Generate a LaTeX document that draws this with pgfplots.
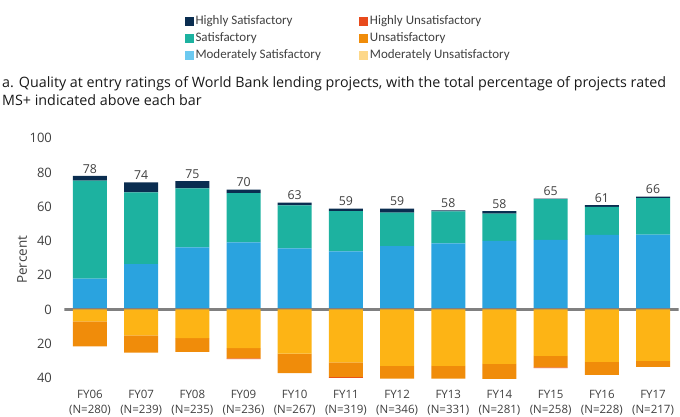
\documentclass[border=0pt]{standalone}
\usepackage{pgfplots}
\pgfplotsset{compat=1.18}
\usepackage{pgfplotstable}
\usepackage{fontspec}
\setmainfont{Open Sans}
\newfontfamily\legfont{Carlito}

\definecolor{hs}{RGB}{10,45,80}
\definecolor{sat}{RGB}{29,178,160}
\definecolor{ms}{RGB}{42,163,223}
\definecolor{hu}{RGB}{232,74,28}
\definecolor{uns}{RGB}{240,140,10}
\definecolor{mu}{RGB}{253,180,21}
\definecolor{mslight}{RGB}{108,201,240}
\definecolor{mulight}{RGB}{253,216,138}
\definecolor{txt}{RGB}{64,64,64}
\definecolor{zeroline}{RGB}{128,128,128}

% ratings by fiscal year (percent); unsatisfactory shares stored as negatives
% tot = height of the positive stack, lbl = rounded MS+ share printed above it
\pgfplotstableread{
x  MS    S     HS   MU     U      HU    tot   lbl
0  18.0  57.3  2.7  -7.0   -14.6  0     78.0  78
1  26.5  41.9  5.9  -15.2  -10.0  0     74.3  74
2  36.3  34.5  4.1  -16.8  -8.0   0     74.9  75
3  39.2  28.8  2.0  -22.6  -6.0   -0.5  70.0  70
4  35.7  25.1  1.6  -25.9  -11.3  0     62.4  63
5  33.9  23.6  1.4  -31.0  -8.5   -0.5  58.9  59
6  37.0  19.5  2.4  -33.0  -7.4   0     58.9  59
7  38.6  18.7  0.6  -33.0  -7.4   0     57.9  58
8  40.0  16.0  1.5  -31.8  -8.8   0     57.5  58
9  40.6  23.8  0.4  -27.1  -6.7   -0.5  64.8  65
10 43.5  16.4  1.1  -30.6  -7.6   0     61.0  61
11 43.7  21.4  0.8  -30.0  -3.5   0     65.9  66
}\qae

\pgfplotsset{
  qaebase/.style={
    scale only axis, width=614.2pt, height=243pt,
    at={(64.4pt,35.7pt)}, anchor=south west,
    xmin=-0.5, xmax=11.5, ymin=-42, ymax=100,
  },
}

\begin{document}
\begin{tikzpicture}
\path[use as bounding box] (0,0) rectangle (680pt,417pt);

% positive side: MS, S, HS
\begin{axis}[qaebase, hide axis, ybar stacked, bar width=34pt]
\addplot[fill=ms, draw=none] table[x=x, y=MS] {\qae};
\addplot[fill=sat, draw=none] table[x=x, y=S] {\qae};
\addplot[fill=hs, draw=none] table[x=x, y=HS] {\qae};
\end{axis}

% negative side: MU, U, HU, plus ticks, labels and legend
\begin{axis}[qaebase, ybar stacked, bar width=34pt,
    axis line style={draw=none},
    major tick length=0pt,
    ytick={-40,-20,0,20,40,60,80,100},
    yticklabels={40,20,0,20,40,60,80,100},
    yticklabel style={font=\fontsize{13}{15}\selectfont, text=txt, xshift=-9pt},
    /pgf/number format/assume math mode=true,
    xtick={0,...,11},
    xticklabels={{FY06\\(N=280)},{FY07\\(N=239)},{FY08\\(N=235)},{FY09\\(N=236)},
                 {FY10\\(N=267)},{FY11\\(N=319)},{FY12\\(N=346)},{FY13\\(N=331)},
                 {FY14\\(N=281)},{FY15\\(N=258)},{FY16\\(N=228)},{FY17\\(N=217)}},
    xticklabel style={font=\fontsize{11.5}{15}\selectfont, text=txt, align=center, yshift=-5.5pt},
    ylabel={Percent},
    ylabel style={at={(axis description cs:-0.069,0.5)}, anchor=center, rotate=0,
                  font=\fontsize{13.5}{15}\selectfont, text=txt},
    legend columns=2,
    legend cell align=left,
    legend image code/.code={\fill[#1] (0pt,-4.5pt) rectangle (9pt,4.5pt);},
    legend style={draw=none, fill=none, at={(axis description cs:0.1964,1.512)},
                  anchor=north west, inner sep=0pt, outer sep=0pt,
                  font=\legfont\fontsize{13}{15}\selectfont, text=txt,
                  nodes={inner sep=1.5pt, text height=9pt, text depth=3pt},
                  row sep=2pt, column sep=0pt,
                  /tikz/every even column/.append style={column sep=37pt}},
]
\addplot[fill=mu, draw=none, forget plot] table[x=x, y=MU] {\qae};
\addplot[fill=uns, draw=none, forget plot] table[x=x, y=U] {\qae};
\addplot[fill=hu, draw=none, forget plot] table[x=x, y=HU] {\qae};

\addlegendimage{fill=hs, draw=none}
\addlegendentry{Highly Satisfactory}
\addlegendimage{fill=hu, draw=none}
\addlegendentry{Highly Unsatisfactory}
\addlegendimage{fill=sat, draw=none}
\addlegendentry{Satisfactory}
\addlegendimage{fill=uns, draw=none}
\addlegendentry{Unsatisfactory}
\addlegendimage{fill=mslight, draw=none}
\addlegendentry{Moderately Satisfactory}
\addlegendimage{fill=mulight, draw=none}
\addlegendentry{Moderately Unsatisfactory}

\draw[zeroline, line width=2.5pt] (axis cs:-0.5,0) -- (axis cs:11.5,0);
\end{axis}

% MS+ totals above each bar
\begin{axis}[qaebase, hide axis, clip=false]
\addplot[draw=none, mark=none, point meta=explicit symbolic, nodes near coords,
    nodes near coords style={font=\fontsize{12.3}{14}\selectfont, text=txt,
                             anchor=south, inner sep=0pt, yshift=2.5pt}]
    table[x=x, y=tot, meta=lbl] {\qae};
\end{axis}

\node[anchor=base west, inner sep=0pt, font=\fontsize{14.3}{18}\selectfont, text=black!90]
  at (2pt,329pt) {a. Quality at entry ratings of World Bank lending projects, with the total percentage of projects rated};
\node[anchor=base west, inner sep=0pt, font=\fontsize{14.3}{18}\selectfont, text=black!90]
  at (2pt,311pt) {MS+ indicated above each bar};
\end{tikzpicture}
\end{document}
